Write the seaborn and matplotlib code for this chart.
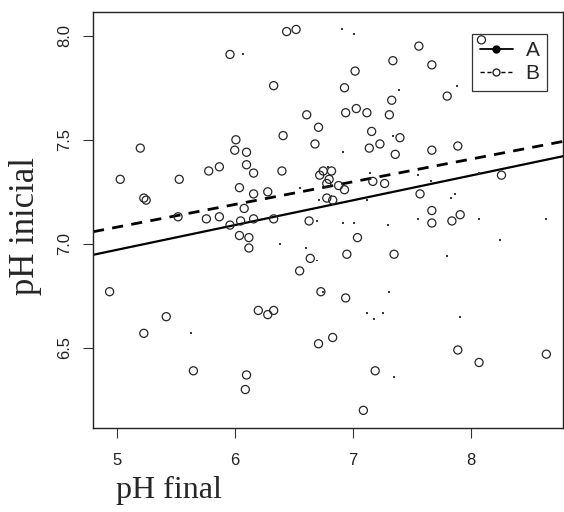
"""
pH inicial vs pH final scatter with two fitted lines (A, B).
"""
import matplotlib
matplotlib.use('Agg')
import matplotlib.pyplot as plt
from matplotlib.lines import Line2D
from matplotlib import font_manager
import seaborn as sns
import pandas as pd
import numpy as np


# Data
ph_final = [6.44, 6.52, 5.96, 6.33, 8.09, 7.56, 7.67, 7.80, 7.34, 7.02,
            6.93, 7.33, 7.31, 7.12, 7.03, 6.94, 6.61, 6.71, 6.41, 7.16,
            7.40, 6.68, 7.23, 7.14, 7.36, 6.16, 6.40, 6.75, 6.82, 6.72,
            6.80, 6.78, 6.88, 6.93, 7.17, 7.27, 6.16, 6.28, 6.78, 6.83,
            6.16, 6.33, 6.63, 5.20, 6.01, 6.00, 6.10, 6.10, 5.87, 5.78,
            5.03, 5.53, 6.04, 5.23, 5.25, 6.08, 5.52, 5.87, 5.76, 6.05,
            5.96, 6.04, 6.12, 6.12, 4.94, 5.42, 5.23, 5.65, 6.10, 6.09,
            7.04, 6.95, 7.35, 6.64, 6.55, 6.73, 6.94, 6.20, 6.28, 6.33,
            6.83, 6.71, 7.19, 7.09, 7.67, 7.84, 7.89, 8.07, 8.64, 7.67,
            7.89, 8.26, 7.57, 7.67, 7.91]
ph_inicial = [8.02, 8.03, 7.91, 7.76, 7.98, 7.95, 7.86, 7.71, 7.88, 7.83,
              7.75, 7.69, 7.62, 7.63, 7.65, 7.63, 7.62, 7.56, 7.52, 7.54,
              7.51, 7.48, 7.48, 7.46, 7.43, 7.34, 7.35, 7.35, 7.35, 7.33,
              7.31, 7.29, 7.28, 7.26, 7.30, 7.29, 7.24, 7.25, 7.22, 7.21,
              7.12, 7.12, 7.11, 7.46, 7.50, 7.45, 7.44, 7.38, 7.37, 7.35,
              7.31, 7.31, 7.27, 7.22, 7.21, 7.17, 7.13, 7.13, 7.12, 7.11,
              7.09, 7.04, 7.03, 6.98, 6.77, 6.65, 6.57, 6.39, 6.37, 6.30,
              7.03, 6.95, 6.95, 6.93, 6.87, 6.77, 6.74, 6.68, 6.66, 6.68,
              6.55, 6.52, 6.39, 6.20, 7.10, 7.11, 6.49, 6.43, 6.47, 7.45,
              7.47, 7.33, 7.24, 7.16, 7.14]

# tiny dots (second set of points)
dot_final = [6.91, 7.01, 6.07, 7.39, 7.88, 7.34, 6.92, 6.55, 6.79, 7.15,
             6.71, 6.82, 7.12, 7.55, 7.66, 8.07, 7.87, 7.83, 7.55, 8.07,
             8.64, 5.63, 6.70, 6.92, 7.01, 7.30, 6.38, 6.60, 6.70, 7.31,
             7.12, 7.18, 7.26, 7.35, 6.75, 8.25, 7.80, 7.91]
dot_inicial = [8.03, 8.01, 7.91, 7.74, 7.76, 7.52, 7.44, 7.27, 7.37, 7.34,
               7.21, 7.23, 7.21, 7.33, 7.30, 7.34, 7.24, 7.22, 7.12, 7.12,
               7.12, 6.57, 7.11, 7.10, 7.10, 7.09, 7.00, 6.98, 6.92, 6.77,
               6.67, 6.64, 6.67, 6.36, 6.77, 7.02, 6.94, 6.65]

# fitted lines: intercept, slope
line_labels = ['A', 'B']
line_intercept = [6.376, 6.535]
line_slope = [0.119, 0.109]

x_ticks = [5, 6, 7, 8]
y_ticks = [6.5, 7.0, 7.5, 8.0]

# Style
sns.set_style("ticks")
names = {f.name for f in font_manager.fontManager.ttflist}
tick_font = 'Liberation Sans Narrow' if 'Liberation Sans Narrow' in names else 'Liberation Sans'
tick_size = 14 if tick_font == 'Liberation Sans Narrow' else 12
plt.rcParams['font.family'] = [tick_font, 'DejaVu Sans']

fig, ax = plt.subplots(figsize=(5.64, 5.12), dpi=100)
fig.subplots_adjust(left=0.165, right=0.998, bottom=0.164, top=0.977)

circles = pd.DataFrame({'final': ph_final, 'inicial': ph_inicial})
dots = pd.DataFrame({'final': dot_final, 'inicial': dot_inicial})

sns.scatterplot(data=circles, x='final', y='inicial', ax=ax, marker='o',
                facecolor='none', edgecolor='#262626', linewidth=0.9, s=34, zorder=3)
sns.scatterplot(data=dots, x='final', y='inicial', ax=ax, marker='s',
                color='#2b3a55', edgecolor='none', s=2.0, zorder=3)

ax.set_xlim(4.80, 8.78)
ax.set_ylim(6.115, 8.115)

# regression lines across the full x range
xs = np.array(ax.get_xlim())
styles = ['-', '--']
widths = [1.6, 2.0]
for lab, a, b, ls, lw in zip(line_labels, line_intercept, line_slope, styles, widths):
    sns.lineplot(x=xs, y=a + b * xs, ax=ax, color='black', lw=lw, linestyle=ls, zorder=2)
ax.lines[-1].set_dashes((4, 3))
ax.set_xlim(4.80, 8.78)

# Axes / ticks
ax.set_xticks(x_ticks)
ax.set_yticks(y_ticks)
ax.set_yticklabels([f'{v:.1f}' for v in y_ticks], rotation=90, va='center')
ax.tick_params(axis='x', length=7, width=0.8, color='#333333', pad=11,
               labelsize=tick_size, labelcolor='#222222')
ax.tick_params(axis='y', length=7, width=0.8, color='#333333', pad=8,
               labelsize=tick_size, labelcolor='#222222')
for sp in ax.spines.values():
    sp.set_visible(True)
    sp.set_color('#222222')
    sp.set_linewidth(1.0)

ax.set_xlabel('pH final', fontsize=23, family='Liberation Serif')
ax.set_ylabel('pH inicial', fontsize=25, family='Liberation Serif')
ax.xaxis.set_label_coords(0.162, -0.115)
ax.yaxis.set_label_coords(-0.108, 0.486)

# Legend
handles = [
    Line2D([], [], color='black', lw=1.3, marker='o', markersize=5,
           markerfacecolor='black', markeredgecolor='black'),
    Line2D([], [], color='black', lw=1.0, linestyle=(0, (3, 2)), marker='o',
           markersize=5, markerfacecolor='white', markeredgecolor='#262626'),
]
leg = ax.legend(handles, line_labels, loc='upper right', bbox_to_anchor=(0.966, 0.947),
                borderaxespad=0, prop={'family': 'Liberation Sans', 'size': 15},
                frameon=True, fancybox=False, handlelength=1.6, handletextpad=0.6,
                borderpad=0.35, labelspacing=0.2)
leg.get_frame().set_edgecolor('black')
leg.get_frame().set_linewidth(0.9)
leg.get_frame().set_facecolor('none')

fig.savefig('out.png', dpi=100)
